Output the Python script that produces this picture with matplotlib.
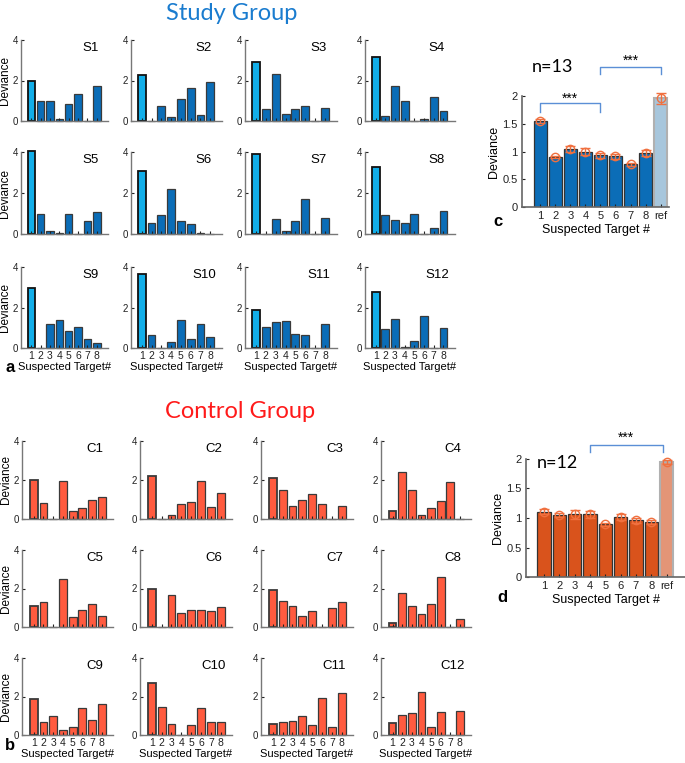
import numpy as np
import matplotlib
matplotlib.use("Agg")
import matplotlib.pyplot as plt

W, H = 685, 763

targets = [1, 2, 3, 4, 5, 6, 7, 8]

study = {
    "S1": [2.0, 1.0, 1.0, 0.12, 0.82, 1.35, 0, 1.75],
    "S2": [2.25, 0, 0.72, 0.2, 1.07, 1.63, 0.28, 1.93],
    "S3": [2.9, 0.6, 2.3, 0.35, 0.58, 0.72, 0, 0.62],
    "S4": [3.15, 0.25, 1.75, 1.0, 0, 0.1, 1.2, 0.5],
    "S5": [4.05, 0.98, 0.13, 0.07, 0.98, 0, 0.62, 1.05],
    "S6": [3.05, 0.55, 0.93, 2.2, 0.65, 0.48, 0.05, 0],
    "S7": [3.88, 0.02, 0.72, 0.15, 0.65, 1.7, 0, 0.78],
    "S8": [3.25, 0.95, 0.68, 0.55, 1.0, 0, 0.3, 1.12],
    "S9": [2.95, 0, 1.18, 1.38, 0.82, 1.05, 0.45, 0.25],
    "S10": [3.65, 0.65, 0, 0.28, 1.37, 0.45, 1.18, 0.52],
    "S11": [1.9, 1.02, 1.28, 1.35, 0.7, 0.63, 0, 1.18],
    "S12": [2.75, 0.92, 1.45, 0.03, 0.35, 1.6, 0, 0.98],
}

control = {
    "C1": [2.0, 0.82, 0, 1.97, 0.42, 0.58, 0.98, 1.15],
    "C2": [2.2, 0, 0.22, 0.77, 0.85, 1.97, 0.62, 1.33],
    "C3": [2.08, 1.47, 0.68, 0.97, 1.28, 0.75, 0, 0.68],
    "C4": [0.4, 2.42, 1.5, 0.22, 0.57, 0.9, 1.92, 0],
    "C5": [1.08, 1.28, 0, 2.47, 0.5, 0.87, 1.22, 0.55],
    "C6": [1.95, 0, 1.68, 0.72, 0.87, 0.87, 0.83, 1.02],
    "C7": [1.9, 1.35, 1.1, 0.57, 0.82, 0, 0.97, 1.28],
    "C8": [0.22, 1.77, 1.08, 0.67, 1.2, 2.6, 0, 0.42],
    "C9": [1.85, 0.67, 0.98, 0.27, 0.42, 1.38, 0.8, 1.62],
    "C10": [2.68, 1.45, 0.58, 0, 0.5, 1.4, 0.7, 0.68],
    "C11": [0.58, 0.65, 0.72, 0.98, 0.5, 1.9, 0.43, 2.2],
    "C12": [0.62, 1.05, 1.15, 2.23, 0.42, 1.2, 0, 1.23],
}

summary_labels = ["1", "2", "3", "4", "5", "6", "7", "8", "ref"]
study_mean = [1.55, 0.9, 1.05, 1.0, 0.93, 0.91, 0.77, 0.97, 1.96]
study_err = [0.03, 0.02, 0.05, 0.07, 0.04, 0.04, 0.03, 0.05, 0.1]
control_mean = [1.11, 1.05, 1.06, 1.06, 0.89, 1.02, 0.96, 0.93, 1.95]
control_err = [0.05, 0.03, 0.07, 0.06, 0.02, 0.05, 0.04, 0.03, 0.03]

plt.rcParams['font.family'] = ['Liberation Sans', 'DejaVu Sans']


def box(l, t, r, b):
    return [l / W, 1 - b / H, (r - l) / W, (b - t) / H]


def small_panel(ax, name, vals, colors, first_edge, ylab, xlab, xlim):
    x = np.array(targets)
    bars = ax.bar(x, vals, width=0.8, color=colors, edgecolor="#3a3a3a", linewidth=0.9)
    bars[0].set_edgecolor(first_edge)
    bars[0].set_linewidth(1.3)
    for b in bars:
        b.set_clip_on(False)
    ax.set_ylim(0, 4)
    ax.set_xlim(*xlim)
    ax.set_yticks([0, 2, 4])
    ax.set_xticks(x)
    ax.tick_params(direction="in", length=2, labelsize=7, pad=2, colors="#222222")
    ax.tick_params(axis="x", labelsize=7.5, pad=2)
    if not xlab:
        ax.set_xticklabels([])
    else:
        ax.set_xlabel("Suspected Target#", fontsize=8, labelpad=1)
    if ylab:
        ax.set_ylabel("Deviance", fontsize=8.5, labelpad=1)
    for s in ["top", "right"]:
        ax.spines[s].set_visible(False)
    for s in ["left", "bottom"]:
        ax.spines[s].set_color("#777777")
        ax.spines[s].set_linewidth(1.0)
    ax.text(0.8, 0.9, name, transform=ax.transAxes, ha="center", va="center", fontsize=9.5)


fig = plt.figure(figsize=(W / 100, H / 100), dpi=100)

# study group
s_rows = [(40, 121), (152, 234), (267, 348)]
s_cols = [(21, 108), (131, 222), (245, 337), (365, 455)]
names = list(study.keys())
for i, name in enumerate(names):
    r, c = divmod(i, 4)
    t, b = s_rows[r]
    l, rr = s_cols[c]
    ax = fig.add_axes(box(l, t, rr, b))
    cols = ["#12aee9"] + ["#0b6db7"] * 7
    small_panel(ax, name, study[name], cols, "#111111", c == 0, r == 2, (-0.1, 9.2))

# control group
c_rows = [(441, 519), (550, 627), (658, 735)]
c_cols = [(22, 113), (140, 232), (261, 353), (381, 471)]
names = list(control.keys())
for i, name in enumerate(names):
    r, c = divmod(i, 4)
    t, b = c_rows[r]
    l, rr = c_cols[c]
    ax = fig.add_axes(box(l, t, rr, b))
    cols = ["#ff5b3f"] * 8
    small_panel(ax, name, control[name], cols, "#3a3a3a", c == 0, r == 2, (-0.2, 9.15))

fig.text(232 / W, 1 - 13 / H, "Study Group", color="#1a7ccf", fontsize=17, ha="center", va="center", family="Lato")
fig.text(240 / W, 1 - 412 / H, "Control Group", color="#ff1a1a", fontsize=17, ha="center", va="center", family="Lato")
fig.text(5 / W, 1 - 368 / H, "a", fontsize=12, fontweight="bold", va="center")
fig.text(5 / W, 1 - 745 / H, "b", fontsize=12, fontweight="bold", va="center")
fig.text(493 / W, 1 - 221 / H, "c", fontsize=12, fontweight="bold", va="center")
fig.text(497 / W, 1 - 597 / H, "d", fontsize=12, fontweight="bold", va="center")


def summary_panel(ax, means, errs, color, refcolor, n_text, n_y, xlim):
    x = np.arange(1, 10)
    cols = [color] * 8 + [refcolor]
    bars = ax.bar(x, means, width=0.86, color=cols, edgecolor="#333333", linewidth=0.9)
    bars[-1].set_edgecolor("#b0b0b0")
    bars[-1].set_linewidth(1.5)
    ax.errorbar(x, means, yerr=errs, fmt="o", color="#f0703f", mfc="none", markersize=6,
                capsize=3.5, elinewidth=1, markeredgewidth=1, clip_on=False, zorder=5)
    ax.set_ylim(0, 2)
    ax.set_xlim(*xlim)
    ax.set_yticks([0, 0.5, 1, 1.5, 2])
    ax.set_yticklabels(["0", "0.5", "1", "1.5", "2"])
    ax.set_xticks(x)
    ax.set_xticklabels(summary_labels)
    ax.tick_params(direction="in", length=2, labelsize=8, pad=3, colors="#222222")
    ax.set_xlabel("Suspected Target #", fontsize=9, labelpad=2)
    ax.set_ylabel("Deviance", fontsize=9, labelpad=2)
    for s in ["top", "right"]:
        ax.spines[s].set_visible(False)
    for s in ["left", "bottom"]:
        ax.spines[s].set_color("#666666")
        ax.spines[s].set_linewidth(1.2)
    ax.text(1.85, n_y, n_text, fontsize=13, family="Lato", ha="center", va="center", clip_on=False)


def bracket(ax, x1, x2, y, drop, star_y):
    ax.plot([x1, x1, x2, x2], [y - drop, y, y, y - drop], color="#5b8fd6", lw=1, clip_on=False)
    ax.text((x1 + x2) / 2, star_y, "***", ha="center", va="center", fontsize=10, clip_on=False)


axc = fig.add_axes(box(522, 96, 669, 207))
summary_panel(axc, study_mean, study_err, "#0b6db7", "#a7c6dc", "n=13", 2.52, (-0.2, 9.55))
bracket(axc, 1, 5, 1.87, 0.15, 1.95)
bracket(axc, 5, 9, 2.53, 0.14, 2.63)

axd = fig.add_axes(box(526, 459, 685, 577))
summary_panel(axd, control_mean, control_err, "#d9531c", "#e39577", "n=12", 1.93, (-0.17, 10.2))
bracket(axd, 4, 8.75, 2.24, 0.12, 2.36)

fig.savefig("out.png", dpi=100)
